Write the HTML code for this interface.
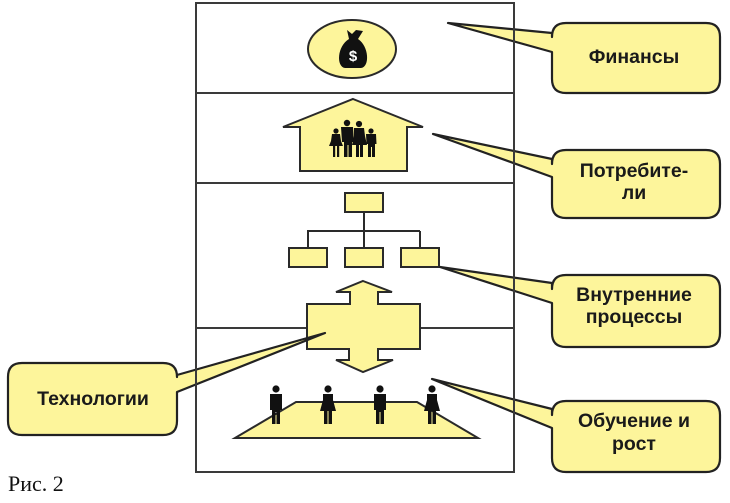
<!DOCTYPE html>
<html><head><meta charset="utf-8"><style>
html,body{margin:0;padding:0;background:#fff;}
svg{display:block;}
.t{font-family:"Liberation Sans",Arial,sans-serif;font-weight:bold;font-size:19.5px;fill:#1a1a1a;text-anchor:middle;}
</style></head><body>
<svg width="730" height="503" viewBox="0 0 730 503" xmlns="http://www.w3.org/2000/svg">
<!-- dividers -->
<g stroke="#3a3a3a" stroke-width="2" fill="none">
<line x1="196" y1="93" x2="514" y2="93"/>
<line x1="196" y1="183" x2="514" y2="183"/>
<line x1="196" y1="328" x2="514" y2="328"/>
</g>
<g fill="#fdf59b" stroke="#2a2a2a" stroke-width="2" stroke-linejoin="miter">
<ellipse cx="352" cy="49" rx="44" ry="29"/>
<polygon points="353,99 423,127 407,127 407,171 300,171 300,127 283,127"/>
<rect x="345" y="193" width="38" height="19"/>
<rect x="289" y="248" width="38" height="19"/>
<rect x="345" y="248" width="38" height="19"/>
<rect x="401" y="248" width="38" height="19"/>
<polygon points="363,281 392,292 378,292 378,304 420,304 420,349 378,349 378,360 393,360 363,372 336,360 349,360 349,349 307,349 307,304 350,304 350,292 336,292"/>
<polygon points="296,402 417,402 478,438 235,438"/>
</g>
<g stroke="#2a2a2a" stroke-width="2" fill="none">
<line x1="364" y1="212" x2="364" y2="248"/>
<line x1="307" y1="231" x2="420" y2="231"/>
<line x1="308" y1="231" x2="308" y2="248"/>
<line x1="420" y1="231" x2="420" y2="248"/>
</g>
<!-- money bag -->
<g fill="#111">
<polygon points="347,30 352,34 356,30 363,31 358,39 349,39"/>
<path d="M349,39 C337,46 336,67 345,68 L361,68 C370,67 369,46 358,39 Z"/>
</g>
<text x="353" y="61" font-family="Liberation Sans,Arial,sans-serif" font-size="15" font-weight="bold" fill="#fff" text-anchor="middle">$</text>
<!-- family -->
<g fill="#111">
<circle cx="336" cy="131" r="2.6"/>
<path d="M332,134 h8 l1,7 l2,5 h-14 l2,-5 Z"/>
<rect x="333" y="146" width="2.2" height="11"/><rect x="337" y="146" width="2.2" height="11"/>
<circle cx="347" cy="123" r="3.2"/>
<path d="M341,127 h12 l1,15 h-2 v15 h-3.5 v-12 h-1 v12 h-3.5 v-15 h-2 Z"/>
<circle cx="359" cy="124" r="3.1"/>
<path d="M354,128 h10 l1,8 l2,9 h-4 v12 h-3 v-12 h-1 v12 h-3 v-12 h-4 l2,-9 Z"/>
<circle cx="371" cy="131" r="2.6"/>
<path d="M366,134 h10 l0.5,10 h-1.5 v13 h-3 v-10 h-1 v10 h-3 v-13 h-1.5 Z"/>
</g>
<!-- people on platform -->
<g fill="#111">
<circle cx="276" cy="389" r="3.6"/>
<path d="M270,394 h12 v16 h-2 v14 h-3.5 v-12 h-1 v12 h-3.5 v-14 h-2 Z"/>
<circle cx="328" cy="389" r="3.6"/>
<path d="M323,394 h10 v6 l3,11 h-4 v13 h-3.5 v-13 h-1 v13 h-3.5 v-13 h-4 l3,-11 Z"/>
<circle cx="380" cy="389" r="3.6"/>
<path d="M374,394 h12 v16 h-2 v14 h-3.5 v-12 h-1 v12 h-3.5 v-14 h-2 Z"/>
<circle cx="432" cy="389" r="3.6"/>
<path d="M427,394 h10 v6 l3,11 h-4 v13 h-3.5 v-13 h-1 v13 h-3.5 v-13 h-4 l3,-11 Z"/>
</g>
<!-- callouts -->
<g fill="#fdf59b" stroke="#222" stroke-width="2.2" stroke-linejoin="round">
<path d="M566,23 H706 Q720,23 720,37 V79 Q720,93 706,93 H566 Q552,93 552,79 V52 L448,23 L552,33 V37 Q552,23 566,23 Z"/>
<path d="M566,150 H706 Q720,150 720,164 V204 Q720,218 706,218 H566 Q552,218 552,204 V177 L433,134 L552,159 V164 Q552,150 566,150 Z"/>
<path d="M566,275 H706 Q720,275 720,289 V333 Q720,347 706,347 H566 Q552,347 552,333 V303 L440,267 L552,283 V289 Q552,275 566,275 Z"/>
<path d="M566,401 H706 Q720,401 720,415 V458 Q720,472 706,472 H566 Q552,472 552,458 V428 L432,379 L552,409 V415 Q552,401 566,401 Z"/>
<path d="M22,363 H163 Q177,363 177,377 V375 L325,333 L177,392 V421 Q177,435 163,435 H22 Q8,435 8,421 V377 Q8,363 22,363 Z"/>
</g>
<!-- frame -->
<rect x="196" y="3" width="318" height="469" fill="none" stroke="#3a3a3a" stroke-width="2"/>
<!-- texts -->
<text class="t" x="634" y="63">Финансы</text>
<text class="t" x="634" y="177">Потребите-</text>
<text class="t" x="634" y="199">ли</text>
<text class="t" x="634" y="301">Внутренние</text>
<text class="t" x="634" y="323">процессы</text>
<text class="t" x="634" y="427">Обучение и</text>
<text class="t" x="634" y="450">рост</text>
<text class="t" x="93" y="405">Технологии</text>
<text x="8" y="491" font-family="Liberation Serif,'Times New Roman',serif" font-size="22" fill="#111">Рис. 2</text>
</svg>
</body></html>
